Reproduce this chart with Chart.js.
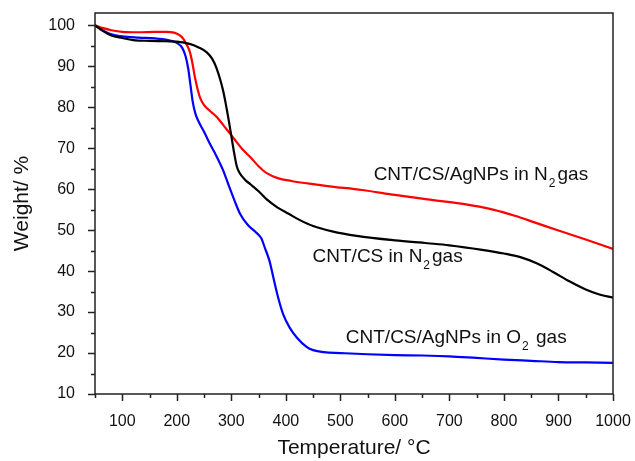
<!DOCTYPE html>
<html>
<head>
<meta charset="utf-8">
<script src="https://cdn.jsdelivr.net/npm/chart.js@4.4.0/dist/chart.umd.min.js"></script>
<style>
  html, body { margin: 0; padding: 0; background: #fff; }
</style>
</head>
<body>
<canvas id="tgaChart" width="635" height="461"></canvas>
<script>
// CNT/CS in N2
const cntCsTemp = [50, 65, 80, 100, 120, 150, 180, 200, 225, 240, 255, 265, 273, 280, 285, 290, 295, 300, 305, 310, 315, 325, 335, 350, 365, 385, 405, 425, 450, 485, 530, 600, 660, 700, 760, 800, 830, 860, 890, 920, 950, 975, 1000];
const cntCsWeight = [100, 98.6, 97.5, 96.9, 96.4, 96.2, 96.1, 96.0, 95.4, 94.6, 93.4, 91.8, 89.5, 86.6, 84, 80.7, 77, 73, 69, 65.6, 64.0, 62.3, 61.2, 59.5, 57.5, 55.5, 54, 52.5, 51, 49.7, 48.6, 47.5, 46.8, 46.3, 45.2, 44.3, 43.4, 41.9, 39.8, 37.5, 35.5, 34.3, 33.5];

// CNT/CS/AgNPs in N2
const agN2Temp = [50, 65, 80, 100, 130, 160, 180, 195, 205, 212, 218, 224, 229, 233, 238, 243, 250, 260, 272, 285, 295, 305, 320, 335, 350, 365, 385, 410, 440, 480, 540, 600, 660, 725, 780, 820, 860, 900, 950, 1000];
const agN2Weight = [100, 99.3, 98.8, 98.4, 98.3, 98.4, 98.4, 98.2, 97.6, 96.7, 95.3, 93.5, 90.5, 87.5, 84.5, 82.2, 80.5, 79.2, 77.8, 75.7, 74, 72.3, 69.8, 67.8, 65.6, 63.9, 62.7, 62, 61.4, 60.7, 59.8, 58.6, 57.5, 56.4, 55.0, 53.5, 51.7, 49.9, 47.7, 45.4];

// CNT/CS/AgNPs in O2
const agO2Temp = [50, 65, 80, 100, 130, 160, 180, 200, 210, 216, 221, 225, 229, 234, 240, 250, 261, 273, 285, 295, 305, 316, 330, 345, 355, 362, 370, 377, 385, 395, 407, 420, 438, 450, 470, 500, 550, 600, 650, 700, 750, 800, 850, 900, 950, 1000];
const agO2Weight = [100, 98.7, 97.8, 97.3, 97.0, 96.8, 96.5, 95.7, 94.5, 92.5, 89.4, 85.5, 81.5, 78.5, 76.5, 74, 71, 68, 64.6, 61, 57.5, 54, 51.3, 49.5, 48, 45.5, 42.5, 38.5, 34, 29.5, 26.2, 23.8, 21.5, 20.7, 20.2, 20.0, 19.7, 19.5, 19.4, 19.2, 18.8, 18.4, 18.1, 17.8, 17.7, 17.6];

const xTicks = [100, 200, 300, 400, 500, 600, 700, 800, 900, 1000];
const xMinorTicks = [50, 150, 250, 350, 450, 550, 650, 750, 850, 950];
const yTicks = [10, 20, 30, 40, 50, 60, 70, 80, 90, 100];
const yMinorTicks = [15, 25, 35, 45, 55, 65, 75, 85, 95];

// curve labels: [main text, subscript, tail] and anchor in data units (left, baseline)
const labelTexts = [
  ["CNT/CS/AgNPs in N", "2", "gas"],
  ["CNT/CS in N", "2", "gas"],
  ["CNT/CS/AgNPs in O", "2", " gas"]
];
const labelAnchors = [[561, 62.2], [449, 42.3], [510, 22.4]];

const fontFamily = "'Liberation Sans', Arial, sans-serif";

const toPoints = (xs, ys) => xs.map((x, i) => ({ x: x, y: ys[i] }));

const frameAndTicks = {
  id: "frameAndTicks",
  afterDatasetsDraw(chart) {
    const { ctx, chartArea: a, scales: { x, y } } = chart;
    ctx.save();
    ctx.strokeStyle = "#222";
    ctx.lineWidth = 1.5;
    ctx.strokeRect(a.left, a.top, a.right - a.left, a.bottom - a.top);
    ctx.beginPath();
    xTicks.forEach(v => {
      const px = Math.round(x.getPixelForValue(v)) + 0.5;
      ctx.moveTo(px, a.bottom); ctx.lineTo(px, a.bottom + 7);
    });
    xMinorTicks.forEach(v => {
      const px = Math.round(x.getPixelForValue(v)) + 0.5;
      ctx.moveTo(px, a.bottom); ctx.lineTo(px, a.bottom + 4);
    });
    yTicks.forEach(v => {
      const py = Math.round(y.getPixelForValue(v)) + 0.5;
      ctx.moveTo(a.left, py); ctx.lineTo(a.left - 7, py);
    });
    yMinorTicks.forEach(v => {
      const py = Math.round(y.getPixelForValue(v)) + 0.5;
      ctx.moveTo(a.left, py); ctx.lineTo(a.left - 4, py);
    });
    ctx.stroke();

    // curve labels with subscript 2
    ctx.fillStyle = "#111";
    ctx.textBaseline = "alphabetic";
    labelTexts.forEach((parts, i) => {
      let px = x.getPixelForValue(labelAnchors[i][0]);
      const py = y.getPixelForValue(labelAnchors[i][1]);
      ctx.font = "19px " + fontFamily;
      ctx.fillText(parts[0], px, py);
      px += ctx.measureText(parts[0]).width + 1;
      ctx.font = "12px " + fontFamily;
      ctx.fillText(parts[1], px, py + 7);
      px += ctx.measureText(parts[1]).width + 2;
      ctx.font = "19px " + fontFamily;
      ctx.fillText(parts[2], px, py);
    });
    ctx.restore();
  }
};

new Chart(document.getElementById("tgaChart").getContext("2d"), {
  type: "line",
  data: {
    datasets: [
      { label: "CNT/CS in N2", data: toPoints(cntCsTemp, cntCsWeight), borderColor: "#000000" },
      { label: "CNT/CS/AgNPs in N2", data: toPoints(agN2Temp, agN2Weight), borderColor: "#ff0000" },
      { label: "CNT/CS/AgNPs in O2", data: toPoints(agO2Temp, agO2Weight), borderColor: "#0000ff" }
    ].map(d => Object.assign(d, {
      borderWidth: 2.2,
      pointRadius: 0,
      fill: false,
      cubicInterpolationMode: "monotone"
    }))
  },
  options: {
    responsive: false,
    animation: false,
    devicePixelRatio: 1,
    layout: { padding: { top: 13, right: 22, left: 0, bottom: 0 } },
    plugins: {
      legend: { display: false },
      tooltip: { enabled: false }
    },
    scales: {
      x: {
        type: "linear",
        min: 50,
        max: 1000,
        afterBuildTicks: scale => { scale.ticks = xTicks.map(v => ({ value: v })); },
        afterFit: scale => {
          scale.height = 67;
          scale.paddingLeft = 0;
          scale.paddingRight = 0;
        },
        grid: { display: false },
        border: { display: false },
        ticks: {
          color: "#111",
          padding: 10,
          maxRotation: 0,
          callback: v => String(v),
          font: { family: fontFamily, size: 16 }
        },
        title: {
          display: true,
          text: "Temperature/ °C",
          color: "#111",
          padding: { top: 0, bottom: 0 },
          font: { family: fontFamily, size: 21 }
        }
      },
      y: {
        min: 10,
        max: 103,
        afterBuildTicks: scale => { scale.ticks = yTicks.map(v => ({ value: v })); },
        afterFit: scale => {
          scale.width = 95;
          scale.paddingTop = 0;
          scale.paddingBottom = 0;
        },
        grid: { display: false },
        border: { display: false },
        ticks: {
          color: "#111",
          padding: 12,
          callback: v => String(v),
          font: { family: fontFamily, size: 16 }
        },
        title: {
          display: true,
          text: "Weight/ %",
          color: "#111",
          padding: { top: 10, bottom: 0 },
          font: { family: fontFamily, size: 21 }
        }
      }
    }
  },
  plugins: [frameAndTicks]
});
</script>
</body>
</html>
